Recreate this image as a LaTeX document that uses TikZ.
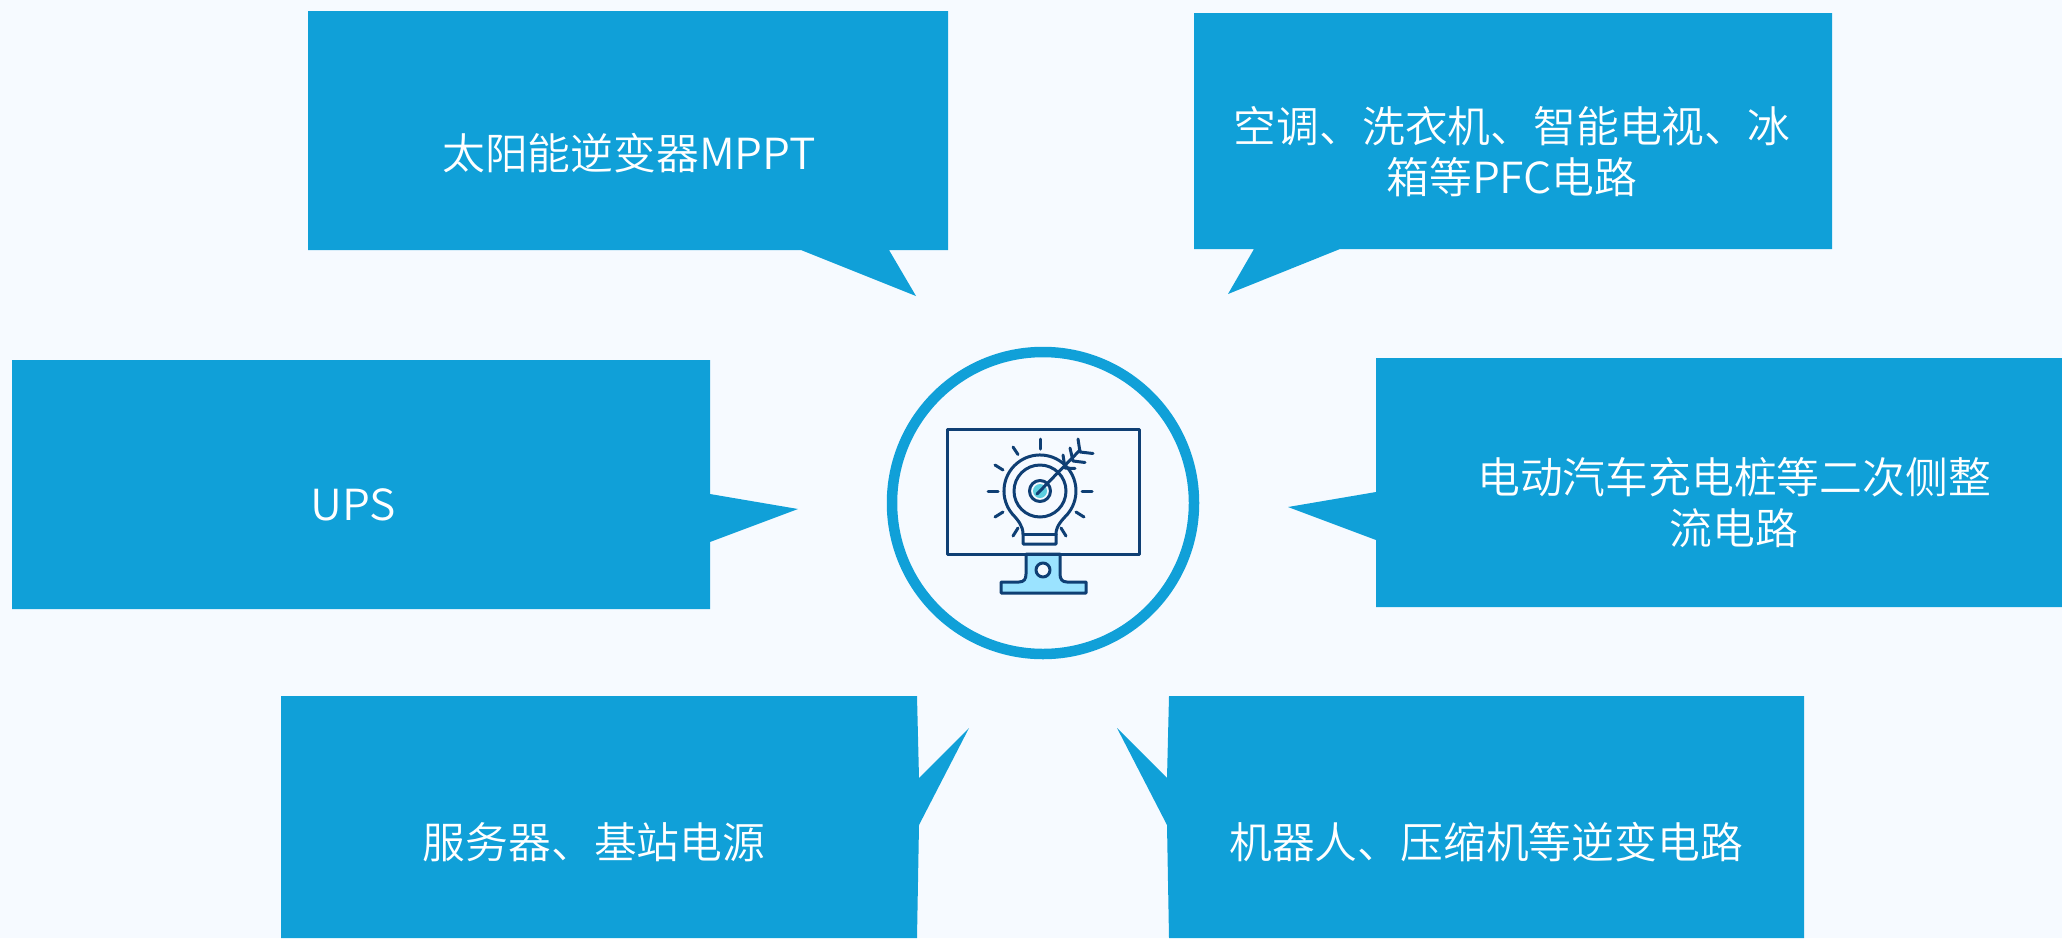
\documentclass[tikz,border=0pt]{standalone}
\usepackage{fontspec}
\setmainfont{Noto Sans CJK SC DemiLight}
\newfontfamily\latf[FakeStretch=1.04]{Noto Sans CJK SC DemiLight}
\definecolor{bgc}{HTML}{F6FAFF}
\definecolor{blue}{HTML}{10A0D8}
\definecolor{navy}{HTML}{0F3F74}
\definecolor{stand}{HTML}{9BE3FF}
\definecolor{teal}{HTML}{5CCFDF}
\tikzset{
  callout/.style={fill=blue,draw=none},
  label/.style={text=white,font=\fontsize{42.8}{51}\selectfont,align=center,inner sep=0pt},
  icon/.style={draw=navy,line width=3pt,line cap=round,line join=round},
}
\begin{document}
\begin{tikzpicture}[x=1pt,y=-1pt]
\useasboundingbox[fill=bgc] (0,0) rectangle (2062,938);
% callouts
\path[callout] (308,11) -- (948,11) -- (948,250) -- (889,250) -- (916,296) -- (801,250) -- (308,250) -- cycle;
\path[callout] (1194,13) -- (1832,13) -- (1832,249) -- (1340,249) -- (1228,294) -- (1254,249) -- (1194,249) -- cycle;
\path[callout] (12,360) -- (710,360) -- (710,494) -- (798,509) -- (710,542) -- (710,609) -- (12,609) -- cycle;
\path[callout] (1376,358) -- (2062,358) -- (2062,607) -- (1376,607) -- (1376,540) -- (1288,507) -- (1376,492) -- cycle;
\path[callout] (281,696) -- (917,696) -- (919,778) -- (969,728) -- (919,825) -- (917,938) -- (281,938) -- cycle;
\path[callout] (1169,696) -- (1804,696) -- (1804,938) -- (1169,938) -- (1167,825) -- (1117,728) -- (1167,778) -- cycle;
% labels
\node[label] (t1) at (629,153) {太阳能逆变器{\latf MPPT}};
\node[label] (t2) at (1512,152) {空调、洗衣机、智能电视、冰\\箱等{\latf PFC}电路};
\node[label] (t3) at (353,505) {\latf UPS};
\node[label] (t4) at (1734,503) {电动汽车充电桩等二次侧整\\流电路};
\node[label] (t5) at (594,842) {服务器、基站电源};
\node[label] (t6) at (1486,842) {机器人、压缩机等逆变电路};
% centre ring
\node[circle,draw=blue,line width=10.5pt,minimum size=302pt,inner sep=0pt,fill=bgc] (ring) at (1043,503) {};
% stand
\draw[icon,fill=stand] (1026,554) -- (1026,574) .. controls (1026,579) and (1024,582) .. (1019,582) -- (1001,582) -- (1001,593) -- (1086,593) -- (1086,582) -- (1067,582) .. controls (1062,582) and (1060,579) .. (1060,574) -- (1060,554) -- cycle;
\draw[icon,fill=bgc] (1043,570) circle (7);
% monitor
\draw[icon] (947,429) rectangle (1139,554);
% bulb
\draw[icon] (1023,534) .. controls (1023,526) and (1018,520) .. (1012.4,514.1) arc[start angle=140,end angle=400,radius=36] .. controls (1062,520) and (1056,526) .. (1056,534) -- (1056,544) -- (1023,544) -- cycle;
\draw[icon] (1023,534) -- (1056,534);
\draw[icon] (1040,491) circle (26);
\fill[teal] (1040,491) circle (7);
\draw[icon] (1040,491) circle (10.5);
% rays
\draw[icon] (1040,439) -- (1040,449);
\draw[icon] (1013,447) -- (1018,454.5);
\draw[icon] (995,465) -- (1003,470);
\draw[icon] (988,491) -- (998,491);
\draw[icon] (995,517) -- (1003,512);
\draw[icon] (1013,536) -- (1018,528);
\draw[icon] (1082,491) -- (1092,491);
\draw[icon] (1076,512) -- (1084,517);
\draw[icon] (1061,528) -- (1066,536);
% arrow
\draw[icon] (1037,494) -- (1080,450);
\draw[icon] (1078,439) -- (1080,452) -- (1093,453.5);
\draw[icon] (1070,448) -- (1073,461) -- (1085,462.5);
\draw[icon] (1063,455) -- (1065,468) -- (1075,468.5);
\end{tikzpicture}
\end{document}
